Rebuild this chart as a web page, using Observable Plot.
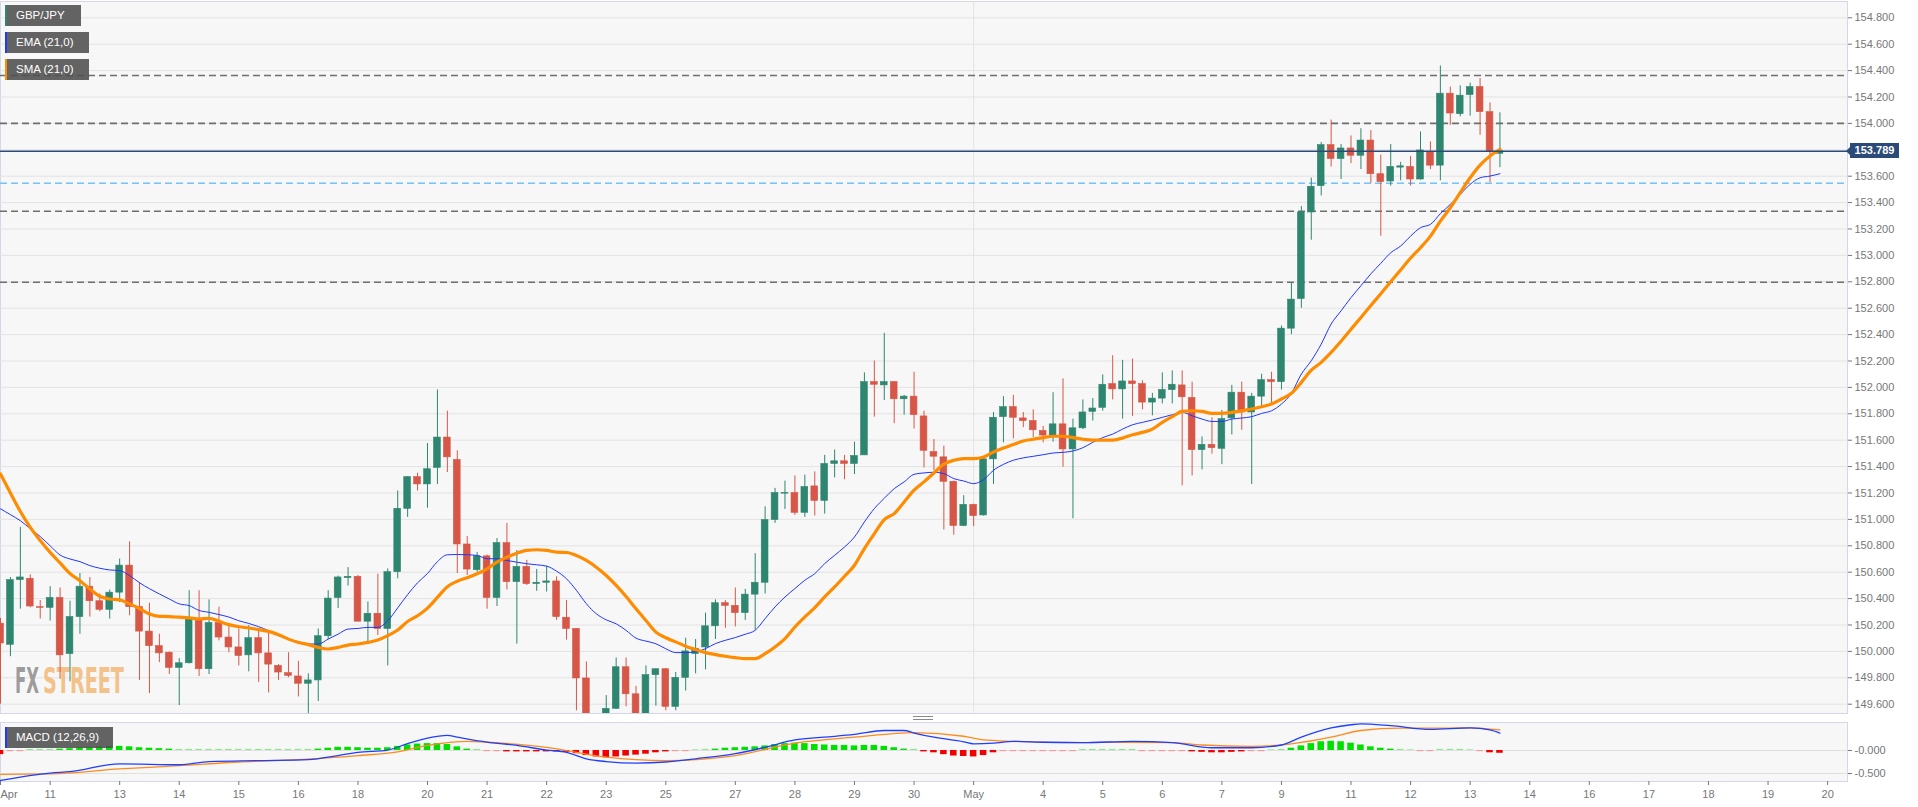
<!DOCTYPE html>
<html><head><meta charset="utf-8">
<script src="https://cdn.jsdelivr.net/npm/d3@7"></script>
<script src="https://cdn.jsdelivr.net/npm/@observablehq/plot@0.6"></script>
<style>
body{margin:0;background:#fff;font-family:"Liberation Sans",Arial,sans-serif;}
#wrap{position:relative;width:1918px;height:807px;overflow:hidden;background:#fff;}
#wrap svg{position:absolute;left:0;}
.tag{position:absolute;left:5px;height:21px;background:rgba(78,78,78,0.88);color:#fff;font-size:11.5px;line-height:21px;padding-left:9px;box-sizing:border-box;border-left:2px solid;white-space:nowrap;}
.handle{position:absolute;left:913px;width:20px;height:1.5px;background:#8a8a8a;}
#price{position:absolute;left:1850px;width:49px;height:15px;background:#2a4a78;color:#fff;font-weight:bold;font-size:11px;line-height:15px;text-align:center;}
#price:before{content:"";position:absolute;left:-4px;top:3.5px;border-top:4px solid transparent;border-bottom:4px solid transparent;border-right:4px solid #2a4a78;}
</style></head><body><div id="wrap"></div>
<script>
// ---- candle data (4-hour GBP/JPY candles, index 0..151) ----
const opens = [150.21,150.05,150.54,150.55,150.335,150.33,150.405,149.98,150.26,150.49,150.38,150.315,150.445,150.65,150.335,150.15,150.04,149.99,149.875,149.91,150.245,149.865,150.215,150.105,150.03,149.97,150.10,149.985,149.89,149.835,149.81,149.755,149.78,150.115,150.405,150.555,150.565,150.225,150.285,150.17,150.60,151.08,151.32,151.265,151.39,151.62,151.45,150.81,150.615,150.72,150.405,150.82,150.525,150.64,150.51,150.52,150.53,150.255,150.17,149.795,149.35,149.30,149.565,149.88,149.675,149.45,149.82,149.865,149.58,149.80,149.98,150.03,150.19,150.365,150.345,150.29,150.43,150.52,150.995,151.195,151.20,151.05,151.25,151.14,151.42,151.44,151.42,151.485,152.04,152.015,152.04,151.91,151.93,151.78,151.51,151.47,151.285,150.95,151.11,151.03,151.455,151.775,151.85,151.765,151.745,151.67,151.635,151.72,151.53,151.69,151.815,151.845,152.025,151.985,152.045,152.025,151.885,151.915,151.98,152.015,151.92,151.525,151.565,151.535,151.765,151.96,151.81,151.93,152.055,152.04,152.445,152.67,153.325,153.525,153.835,153.73,153.81,153.755,153.87,153.615,153.56,153.665,153.67,153.575,153.785,153.68,154.225,154.07,154.215,154.275,154.085,153.77];
const highs = [150.25,150.56,150.94,150.58,150.385,150.49,150.48,150.38,150.59,150.56,150.435,150.465,150.70,150.83,150.52,150.365,150.13,149.995,149.945,150.46,150.46,150.39,150.335,150.19,150.17,150.195,150.17,150.15,149.90,149.99,149.925,149.83,150.17,150.46,150.57,150.635,150.575,150.375,150.585,150.625,151.215,151.325,151.35,151.575,151.98,151.82,151.52,150.87,150.75,150.73,150.855,150.97,150.765,150.69,150.62,150.645,150.565,150.385,150.17,149.92,149.50,149.665,149.95,149.95,149.735,149.89,149.865,149.87,149.84,150.10,150.09,150.29,150.39,150.385,150.48,150.47,150.74,151.095,151.235,151.29,151.33,151.335,151.36,151.485,151.525,151.485,151.585,152.11,152.20,152.41,152.045,151.94,152.115,151.82,151.605,151.555,151.29,151.18,151.115,151.47,151.81,151.93,151.94,151.81,151.83,151.705,151.96,152.065,151.76,151.905,151.915,152.095,152.24,152.205,152.215,152.05,151.955,152.11,152.125,152.125,152.04,151.625,151.77,151.825,152.015,152.04,151.955,152.10,152.115,152.465,152.79,153.37,153.585,153.855,154.025,153.84,153.905,153.96,153.945,153.76,153.84,153.705,153.75,153.935,153.86,154.435,154.275,154.285,154.305,154.34,154.155,154.08];
const lows = [149.60,149.96,150.32,150.33,150.245,150.23,149.79,149.77,150.13,150.26,150.30,150.245,150.37,150.27,149.78,149.68,149.915,149.825,149.59,149.905,149.81,149.825,150.08,149.99,149.89,149.845,149.765,149.685,149.78,149.80,149.655,149.525,149.62,150.09,150.325,150.495,150.225,150.055,150.12,149.89,150.55,151.015,151.215,151.085,151.265,151.355,150.59,150.575,150.60,150.32,150.34,150.465,150.055,150.50,150.455,150.45,150.235,150.085,149.55,149.20,149.10,149.20,149.56,149.58,149.40,149.40,149.585,149.55,149.55,149.70,149.83,149.86,150.09,150.175,150.185,150.235,150.16,150.435,150.97,151.075,151.03,151.015,151.025,151.04,151.315,151.30,151.34,151.485,151.775,151.90,151.725,151.79,151.685,151.39,151.37,150.92,150.88,150.945,150.945,151.025,151.265,151.58,151.61,151.695,151.62,151.58,151.585,151.395,151.005,151.68,151.745,151.82,151.905,151.76,151.78,151.83,151.785,151.875,151.875,151.255,151.33,151.375,151.495,151.415,151.64,151.675,151.265,151.86,151.875,151.98,152.40,152.60,153.115,153.45,153.67,153.575,153.695,153.65,153.545,153.145,153.525,153.565,153.525,153.57,153.65,153.565,153.985,154.05,154.055,153.91,153.55,153.665];
const closes = [150.06,150.54,150.56,150.34,150.33,150.405,149.97,150.26,150.49,150.38,150.315,150.445,150.65,150.335,150.15,150.04,149.985,149.875,149.91,150.245,149.865,150.215,150.105,150.03,149.965,150.10,149.985,149.90,149.84,149.815,149.755,149.78,150.115,150.40,150.56,150.565,150.225,150.285,150.17,150.60,151.08,151.32,151.265,151.38,151.62,151.47,150.81,150.62,150.72,150.405,150.82,150.525,150.64,150.51,150.52,150.53,150.26,150.17,149.795,149.35,149.25,149.565,149.88,149.675,149.45,149.82,149.865,149.58,149.80,150.00,150.02,150.19,150.365,150.345,150.29,150.43,150.52,150.995,151.20,151.20,151.05,151.245,151.14,151.42,151.44,151.42,151.48,152.04,152.02,152.04,151.91,151.93,151.79,151.52,151.475,151.285,150.95,151.11,151.025,151.455,151.77,151.85,151.77,151.745,151.675,151.635,151.72,151.53,151.69,151.81,151.84,152.02,151.985,152.045,152.025,151.885,151.915,151.98,152.02,151.925,151.525,151.565,151.54,151.76,151.96,151.81,151.93,152.055,152.04,152.445,152.665,153.325,153.52,153.835,153.73,153.81,153.755,153.87,153.615,153.555,153.67,153.675,153.575,153.795,153.68,154.225,154.075,154.21,154.275,154.085,153.785,153.789];

// ---- indicator lines ----
const emaVals = [151.08,151.036,150.99,150.93,150.87,150.80,150.73,150.70,150.68,150.65,150.63,150.617,150.612,150.574,150.52,150.475,150.435,150.397,150.36,150.347,150.31,150.296,150.279,150.26,150.232,150.212,150.187,150.157,150.119,150.093,150.073,150.056,150.056,150.093,150.131,150.169,150.174,150.182,150.182,150.232,150.33,150.43,150.52,150.59,150.68,150.732,150.734,150.732,150.727,150.702,150.702,150.689,150.676,150.664,150.656,150.646,150.608,150.55,150.462,150.361,150.285,150.239,150.209,150.159,150.10,150.078,150.058,150.02,149.991,149.991,149.996,150.021,150.059,150.084,150.105,150.13,150.16,150.248,150.337,150.412,150.476,150.539,150.589,150.665,150.728,150.791,150.867,150.981,151.082,151.16,151.233,151.284,151.342,151.352,151.357,151.347,151.309,151.291,151.271,151.301,151.372,151.417,151.448,151.466,151.478,151.49,151.503,151.508,151.518,151.543,151.584,151.62,151.646,151.684,151.717,151.735,151.753,151.773,151.793,151.811,151.785,151.76,151.742,151.742,151.76,151.768,151.778,151.803,151.823,151.874,151.955,152.101,152.202,152.328,152.48,152.58,152.68,152.77,152.86,152.94,153.02,153.071,153.146,153.21,153.235,153.316,153.386,153.462,153.538,153.588,153.601,153.619];
const smaVals = [151.344,151.2,151.06,150.94,150.84,150.75,150.67,150.59,150.535,150.473,150.418,150.397,150.39,150.36,150.325,150.284,150.266,150.264,150.259,150.254,150.246,150.251,150.228,150.203,150.187,150.177,150.165,150.152,150.126,150.093,150.068,150.051,150.03,150.018,150.03,150.048,150.056,150.068,150.086,150.119,150.162,150.227,150.27,150.328,150.409,150.49,150.532,150.558,150.588,150.626,150.676,150.714,150.744,150.765,150.77,150.765,150.752,150.749,150.727,150.689,150.638,150.575,150.5,150.416,150.323,150.234,150.146,150.103,150.072,150.039,150.014,149.991,149.976,149.963,149.953,149.945,149.945,149.983,150.034,150.097,150.185,150.261,150.332,150.413,150.488,150.569,150.653,150.779,150.892,150.999,151.044,151.132,151.221,151.284,151.352,151.418,151.448,151.461,151.461,151.473,151.511,151.541,151.567,151.594,151.607,151.62,151.63,151.63,151.62,151.607,151.6,151.6,151.601,151.616,151.641,151.659,151.684,151.735,151.778,151.818,151.823,151.818,151.803,151.803,151.811,151.823,151.836,151.854,151.874,151.912,151.955,152.038,152.13,152.19,152.265,152.35,152.44,152.53,152.62,152.71,152.80,152.89,152.98,153.058,153.146,153.26,153.361,153.475,153.588,153.684,153.753,153.803];

// ---- MACD (12,26,9) ----
const histVals = [-0.09,-0.025,-0.025,0.025,0.025,0.025,0.03,0.04,0.06,0.07,0.08,0.09,0.09,0.08,0.06,0.05,0.04,0.03,0.025,0.025,0.025,0.025,0.025,0.025,0.025,0.025,0.025,0.025,0.025,0.025,0.025,0.025,0.03,0.05,0.07,0.07,0.06,0.05,0.05,0.06,0.09,0.12,0.14,0.15,0.15,0.13,0.08,0.03,0.025,-0.025,-0.025,-0.03,-0.03,-0.03,-0.03,-0.03,-0.03,-0.04,-0.07,-0.11,-0.14,-0.16,-0.14,-0.12,-0.1,-0.08,-0.05,-0.03,-0.025,-0.025,0.015,0.025,0.03,0.05,0.06,0.07,0.08,0.1,0.13,0.15,0.16,0.15,0.13,0.12,0.11,0.11,0.1,0.11,0.11,0.09,0.06,0.03,0.025,-0.03,-0.05,-0.09,-0.12,-0.13,-0.14,-0.11,-0.05,-0.025,-0.025,-0.025,-0.025,-0.025,-0.025,-0.025,-0.025,0.025,0.025,0.025,0.025,0.025,0.025,-0.025,-0.025,-0.025,-0.025,-0.025,-0.03,-0.04,-0.05,-0.05,-0.04,-0.03,-0.025,-0.025,0.015,0.025,0.05,0.1,0.15,0.19,0.2,0.19,0.16,0.12,0.08,0.05,0.03,0.025,0.015,-0.025,-0.025,0.025,0.025,0.025,0.015,-0.025,-0.05,-0.06];
const macdK = [0,5,7,12,18,21,26,31,34,36,39,41,43,45,46,49,52,55,57,59,61,64,67,70,74,77,80,83,86,89,91,92,94,97,98,100,102,105,109,114,118,122,126,129,131,134,136,137,140,144,148,150,151];
const macdVals = [-0.65,-0.49,-0.46,-0.29,-0.31,-0.24,-0.22,-0.2,-0.11,-0.04,0.01,0.15,0.27,0.33,0.29,0.18,0.11,0.01,-0.04,-0.18,-0.24,-0.275,-0.25,-0.18,-0.07,0.07,0.23,0.29,0.35,0.435,0.435,0.38,0.29,0.19,0.145,0.16,0.2,0.18,0.17,0.2,0.17,0.06,0.06,0.12,0.29,0.49,0.56,0.58,0.54,0.46,0.49,0.45,0.38];
const signalK = [0,5,12,18,24,30,36,40,43,47,49,55,61,64,67,74,80,86,92,97,99,102,109,114,118,121,126,130,134,137,141,146,148,151];
const signalVals = [-0.52,-0.51,-0.4,-0.33,-0.25,-0.2,-0.11,-0.03,0.11,0.2,0.18,0.07,-0.145,-0.2,-0.22,-0.11,0.16,0.29,0.39,0.31,0.23,0.2,0.17,0.18,0.17,0.12,0.09,0.145,0.29,0.435,0.486,0.486,0.493,0.449];

// ---- levels & ticks ----
const resistanceLevels = [154.363, 154.0, 153.335, 152.797];
const supportLevel = [153.547];
const lastPrice = 153.789;
const yTicks = [149.6,149.8,150.0,150.2,150.4,150.6,150.8,151.0,151.2,151.4,151.6,151.8,152.0,152.2,152.4,152.6,152.8,153.0,153.2,153.4,153.6,153.8,154.0,154.2,154.4,154.6,154.8];
const macdTicks = [0, -0.5];
const macdTickLabels = ["-0.000", "-0.500"];
const monthK = [98];
const xTickK = [5,12,18,24,30,36,43,49,55,61,67,74,80,86,92,98,105,111,117,123,129,136,142,148,154,160,166,172,178,184];
const xTickLabels = ["11","13","14","15","16","18","20","21","22","23","25","27","28","29","30","May","4","5","6","7","9","11","12","13","14","16","17","18","19","20"];
const firstTick = [0], firstTickLabel = "Apr";

// ---- build ----
const GREEN = "#2f8670", RED = "#d65747";
const candles = opens.map((o, i) => ({k: i, open: o, high: highs[i], low: lows[i], close: closes[i]}));
const cColor = d => d.close >= d.open ? GREEN : RED;
const font = "'Liberation Sans', Arial, sans-serif";
const xDomain = [0, 186];

const main = Plot.plot({
  width: 1918, height: 714,
  marginTop: 1, marginBottom: 1, marginLeft: 0, marginRight: 71,
  x: {domain: xDomain, axis: null},
  y: {domain: [149.5295, 154.9235], axis: null},
  color: {type: "identity"},
  style: {fontFamily: font, fontSize: "11px", background: "transparent", overflow: "visible"},
  marks: [
    Plot.frame({fill: "#f7f7f7", stroke: "#d3d7e8"}),
    Plot.gridY(yTicks, {stroke: "#e3e3e3", strokeOpacity: 1}),
    Plot.ruleX(monthK, {stroke: "#e3e3e3"}),
    Plot.ruleY(resistanceLevels, {stroke: "#6e6e6e", strokeWidth: 1.6, strokeDasharray: "7,4"}),
    Plot.ruleY(supportLevel, {stroke: "#74c2f7", strokeWidth: 1.6, strokeDasharray: "7,4"}),
    Plot.ruleX(candles, {x: "k", y1: "low", y2: "high", stroke: cColor, strokeWidth: 1, clip: true}),
    Plot.rect(candles, {x1: d => d.k - 0.34, x2: d => d.k + 0.34, y1: "open", y2: "close", fill: cColor, stroke: cColor, strokeWidth: 0.6, clip: true}),
    Plot.line(emaVals, {x: (d, i) => i, y: d => d, stroke: "#2035ff", strokeWidth: 1, curve: "monotone-x", clip: true}),
    Plot.line(smaVals, {x: (d, i) => i, y: d => d, stroke: "#ff8c00", strokeWidth: 3.2, curve: "monotone-x", clip: true}),
    Plot.ruleY([lastPrice], {stroke: "#2a4a78", strokeWidth: 1.3}),
    Plot.axisY(yTicks, {anchor: "right", label: null, tickSize: 4, tickPadding: 3, tickFormat: d => d.toFixed(3), color: "#777", fontSize: 11})
  ]
});

const hist = histVals.map((v, i) => ({k: i, v}));
const hColor = d => d.v >= 0 ? (Math.abs(d.v) < 0.03 ? "#8fe68f" : "#00e000") : (Math.abs(d.v) < 0.03 ? "#f59a9a" : "#f00000");
const macdLine = macdK.map((k, i) => ({k, v: macdVals[i]}));
const signalLine = signalK.map((k, i) => ({k, v: signalVals[i]}));
const xLabel = new Map(xTickK.map((k, i) => [k, xTickLabels[i]]));

const macd = Plot.plot({
  width: 1918, height: 91,
  marginTop: 6, marginBottom: 26, marginLeft: 0, marginRight: 71,
  x: {domain: xDomain, axis: null, label: null},
  y: {domain: [-0.674, 0.609], axis: null, label: null},
  color: {type: "identity"},
  style: {fontFamily: font, fontSize: "11px", background: "transparent", overflow: "visible"},
  marks: [
    Plot.frame({fill: "#f7f7f7", stroke: "#d3d7e8"}),
    Plot.gridY(macdTicks, {stroke: "#e0e0e0", strokeOpacity: 1}),
    Plot.rect(hist, {x1: d => d.k - 0.33, x2: d => d.k + 0.33, y1: 0, y2: "v", fill: hColor, clip: true}),
    Plot.line(signalLine, {x: "k", y: "v", stroke: "#ff8a1e", strokeWidth: 1.3, curve: "monotone-x", clip: true}),
    Plot.line(macdLine, {x: "k", y: "v", stroke: "#1f3fff", strokeWidth: 1.3, curve: "monotone-x", clip: true}),
    Plot.axisY(macdTicks, {anchor: "right", label: null, tickSize: 4, tickPadding: 3, tickFormat: (d) => macdTickLabels[macdTicks.indexOf(d)], color: "#777", fontSize: 11}),
    Plot.axisX(xTickK, {anchor: "bottom", label: null, tickSize: 4, tickPadding: 5, tickFormat: d => xLabel.get(d), color: "#777", fontSize: 11}),
    Plot.axisX(firstTick, {anchor: "bottom", label: null, tickSize: 4, tickPadding: 5, tickFormat: () => firstTickLabel, textAnchor: "start", color: "#777", fontSize: 11})
  ]
});

const wrap = document.getElementById("wrap");
main.style.top = "0px";
macd.style.top = "716px";
wrap.appendChild(main);
wrap.appendChild(macd);

// FXSTREET watermark (under the candles): two condensed words scaled to fit their boxes
const grid = main.querySelector('[aria-label="y-grid"]');
const wm = d3.create("svg:g").attr("font-family", "'DejaVu Sans', sans-serif").attr("font-weight", "bold").attr("font-size", 36).attr("text-anchor", "start");
const parts = [
  {text: "FX", left: 15, width: 24, fill: "#9c9c9c"},
  {text: "STREET", left: 43, width: 81, fill: "#f2c28a"}
];
const nodes = parts.map(pt => wm.append("text").attr("x", 0).attr("y", 0).attr("fill", pt.fill).text(pt.text));
if (grid) grid.after(wm.node()); else main.appendChild(wm.node());
parts.forEach((pt, i) => {
  const n = nodes[i].node();
  const w = n.getComputedTextLength() || 1;
  nodes[i].attr("transform", `translate(${pt.left},693) scale(${pt.width / w},1)`);
});

// legend tags
function tag(text, top, color, width) {
  const d = document.createElement("div");
  d.className = "tag"; d.textContent = text;
  d.style.top = top + "px"; d.style.width = width + "px"; d.style.borderLeftColor = color;
  wrap.appendChild(d);
}
tag("GBP/JPY", 5, "#2f8670", 76);
tag("EMA (21,0)", 32, "#1b3cff", 84);
tag("SMA (21,0)", 59, "#ff8c00", 84);
tag("MACD (12,26,9)", 727, "#1b3cff", 108);

// last price label
const p = document.createElement("div");
p.id = "price"; p.textContent = lastPrice.toFixed(3);
p.style.top = (main.scale("y").apply(lastPrice) - 7.5) + "px";
wrap.appendChild(p);

// panel resize handle
for (const t of [715.5, 718.5]) {
  const h = document.createElement("div"); h.className = "handle"; h.style.top = t + "px"; wrap.appendChild(h);
}
</script></body></html>
